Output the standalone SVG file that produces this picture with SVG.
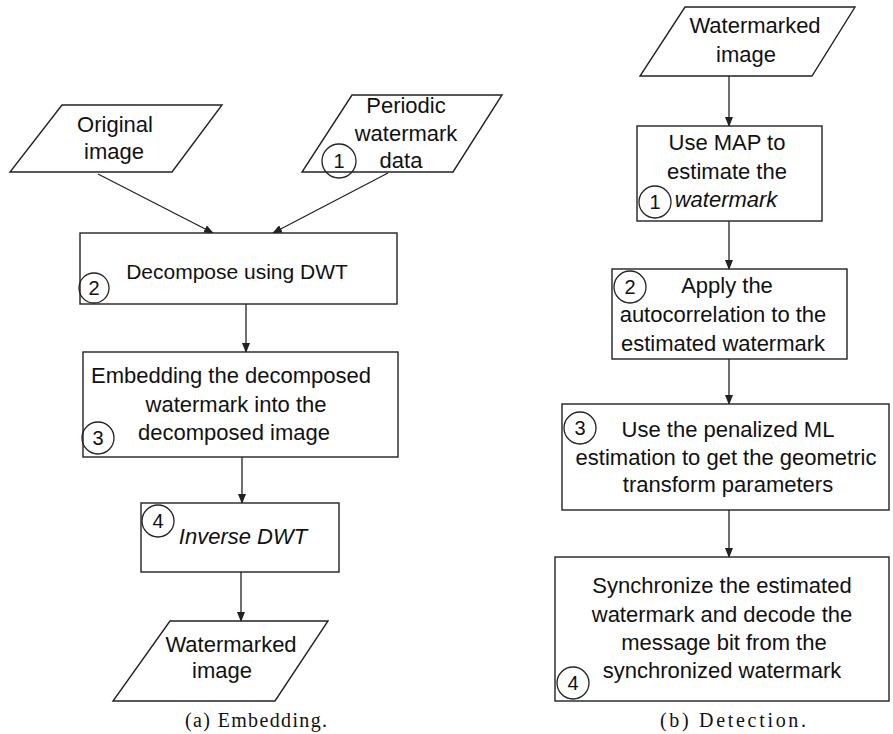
<svg xmlns="http://www.w3.org/2000/svg" width="893" height="734" viewBox="0 0 893 734">
  <defs>
    <marker id="arrow" markerWidth="10" markerHeight="8" refX="9" refY="4" orient="auto" markerUnits="userSpaceOnUse">
      <path d="M0,0 L10,4 L0,8 Z" fill="#222"/>
    </marker>
    <style>
      .shape { fill: #fff; stroke: #222; stroke-width: 1.4; }
      .num { fill: none; stroke: #222; stroke-width: 1.3; }
      .lbl { font-family: "Liberation Sans", Arial, sans-serif; font-size: 22px; fill: #111; text-anchor: middle; }
      .it { font-style: italic; }
      .n { font-family: "Liberation Sans", Arial, sans-serif; font-size: 20px; fill: #111; text-anchor: middle; }
      .cap { font-family: "Liberation Serif", "Times New Roman", serif; font-size: 20px; fill: #111; text-anchor: middle; }
      .edge { stroke: #222; stroke-width: 1.3; fill: none; marker-end: url(#arrow); }
    </style>
  </defs>
  <rect width="893" height="734" fill="#fff"/>

  <!-- Connectors -->
  <g id="connectors">
    <line class="edge" x1="98" y1="174" x2="213" y2="233"/>
    <line class="edge" x1="388" y1="173" x2="273" y2="233"/>
    <line class="edge" x1="246" y1="304" x2="246" y2="352"/>
    <line class="edge" x1="242" y1="457" x2="242" y2="503"/>
    <line class="edge" x1="241" y1="572" x2="241" y2="621"/>
    <line class="edge" x1="729" y1="76" x2="729" y2="126"/>
    <line class="edge" x1="729" y1="221" x2="729" y2="269"/>
    <line class="edge" x1="729" y1="359" x2="729" y2="404"/>
    <line class="edge" x1="729" y1="510" x2="729" y2="557"/>
  </g>

  <!-- (a) Embedding -->
  <g id="original-image">
    <polygon class="shape" points="62,105 222,105 172,172 10,172"/>
    <text class="lbl" x="115" y="132">Original</text>
    <text class="lbl" x="114" y="159">image</text>
  </g>

  <g id="periodic-watermark">
    <polygon class="shape" points="352,95 502,95 453,172 302,172"/>
    <text class="lbl" x="406" y="113">Periodic</text>
    <text class="lbl" x="406" y="141">watermark</text>
    <text class="lbl" x="401" y="168">data</text>
    <circle class="num" cx="339" cy="161" r="17"/>
    <text class="n" x="339" y="168">1</text>
  </g>

  <g id="decompose">
    <rect class="shape" x="80" y="233" width="317" height="71"/>
    <text class="lbl" x="237" y="279" style="font-size:21px">Decompose using DWT</text>
    <circle class="num" cx="94" cy="288" r="15"/>
    <text class="n" x="94" y="295">2</text>
  </g>

  <g id="embed">
    <rect class="shape" x="83" y="352" width="315" height="105"/>
    <text class="lbl" x="231" y="383">Embedding the decomposed</text>
    <text class="lbl" x="236" y="412">watermark into the</text>
    <text class="lbl" x="234" y="440">decomposed image</text>
    <circle class="num" cx="98" cy="438" r="16"/>
    <text class="n" x="98" y="445">3</text>
  </g>

  <g id="inverse-dwt">
    <rect class="shape" x="141" y="503" width="198" height="69"/>
    <text class="lbl it" x="243" y="544">Inverse DWT</text>
    <circle class="num" cx="158" cy="521" r="16"/>
    <text class="n" x="158" y="528">4</text>
  </g>

  <g id="watermarked-out">
    <polygon class="shape" points="170,621 328,621 275,701 113,701"/>
    <text class="lbl" x="231" y="652">Watermarked</text>
    <text class="lbl" x="222" y="678">image</text>
  </g>

  <text class="cap" x="256" y="727" textLength="142" lengthAdjust="spacing">(a) Embedding.</text>

  <!-- (b) Detection -->
  <g id="watermarked-in">
    <polygon class="shape" points="685,7 855,7 812,76 640,76"/>
    <text class="lbl" x="755" y="33">Watermarked</text>
    <text class="lbl" x="746" y="62">image</text>
  </g>

  <g id="map-estimate">
    <rect class="shape" x="637" y="126" width="185" height="95"/>
    <text class="lbl" x="727" y="150">Use MAP to</text>
    <text class="lbl" x="727" y="179">estimate the</text>
    <text class="lbl it" x="726" y="207">watermark</text>
    <circle class="num" cx="655" cy="202" r="16"/>
    <text class="n" x="655" y="209">1</text>
  </g>

  <g id="autocorrelation">
    <rect class="shape" x="612" y="269" width="235" height="90"/>
    <text class="lbl" x="727" y="293">Apply the</text>
    <text class="lbl" x="723" y="322">autocorrelation to the</text>
    <text class="lbl" x="723" y="351">estimated watermark</text>
    <circle class="num" cx="630" cy="287" r="16"/>
    <text class="n" x="630" y="294">2</text>
  </g>

  <g id="penalized-ml">
    <rect class="shape" x="562" y="404" width="327" height="106"/>
    <text class="lbl" x="728" y="437">Use the penalized ML</text>
    <text class="lbl" x="726" y="465">estimation to get the geometric</text>
    <text class="lbl" x="728" y="492">transform parameters</text>
    <circle class="num" cx="580" cy="428" r="16"/>
    <text class="n" x="580" y="435">3</text>
  </g>

  <g id="synchronize">
    <rect class="shape" x="555" y="557" width="334" height="144"/>
    <text class="lbl" x="722" y="593">Synchronize the estimated</text>
    <text class="lbl" x="722" y="622">watermark and decode the</text>
    <text class="lbl" x="724" y="650">message bit from the</text>
    <text class="lbl" x="722" y="678">synchronized watermark</text>
    <circle class="num" cx="573" cy="683" r="16"/>
    <text class="n" x="573" y="690">4</text>
  </g>

  <text class="cap" x="733" y="727" textLength="146" lengthAdjust="spacing">(b) Detection.</text>
</svg>
